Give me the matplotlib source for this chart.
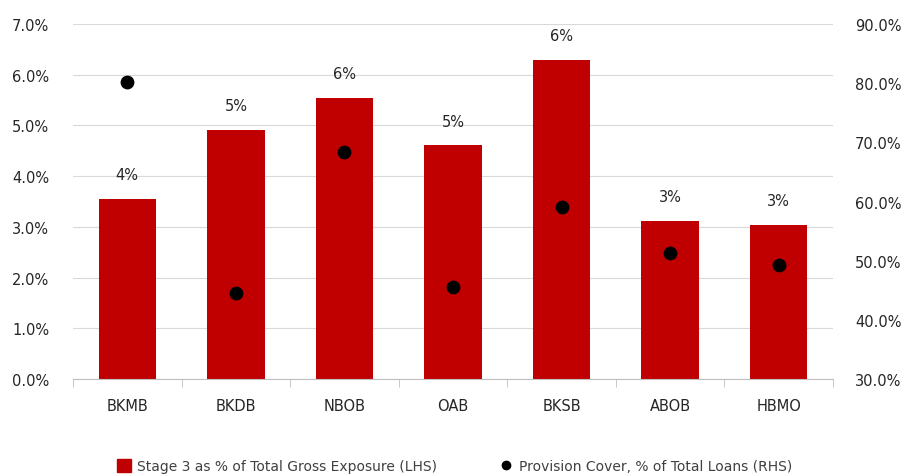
import matplotlib.pyplot as plt
from matplotlib.ticker import FuncFormatter, MultipleLocator
from matplotlib.lines import Line2D
from matplotlib.patches import Patch
import numpy as np

banks = ["BKMB", "BKDB", "NBOB", "OAB", "BKSB", "ABOB", "HBMO"]
stage3 = [3.55, 4.92, 5.55, 4.61, 6.29, 3.12, 3.04]
provision = [80.2, 44.5, 68.3, 45.6, 59.1, 51.3, 49.3]

plt.rcParams['font.family'] = ['DejaVu Sans']

fig = plt.figure(figsize=(9.09, 4.77), dpi=100)
ax = fig.add_axes([0.0803, 0.2034, 0.836, 0.744])
ax2 = ax.twinx()

x = np.arange(len(banks))
ax.bar(x, stage3, width=0.53, color="#c00000", zorder=2)
for xi, v in zip(x, stage3):
    ax.annotate(f"{v:.0f}%", (xi, v), xytext=(0, 12), textcoords="offset points",
                ha="center", va="bottom", fontsize=10.5, color="#262626")

ax2.scatter(x, provision, s=80, color="black", zorder=3)

ax.set_xlim(-0.5, len(banks) - 0.5)
ax.set_ylim(0, 7)
ax2.set_ylim(30, 90)
ax.yaxis.set_major_locator(MultipleLocator(1))
ax2.yaxis.set_major_locator(MultipleLocator(10))
ax.yaxis.set_major_formatter(FuncFormatter(lambda v, p: f"{v:.1f}%"))
ax2.yaxis.set_major_formatter(FuncFormatter(lambda v, p: f"{v:.1f}%"))

ax.grid(axis="y", color="#d9d9d9", linewidth=0.8, zorder=0)
ax.set_axisbelow(True)

ax.set_xticks(x)
ax.set_xticklabels(banks)
ax.set_xticks(np.arange(len(banks) + 1) - 0.5, minor=True)
ax.tick_params(axis="x", which="major", length=0, pad=14, labelsize=10.5, colors="#262626")
ax.tick_params(axis="x", which="minor", length=6, color="#bfbfbf")
ax.tick_params(axis="y", length=0, pad=17, labelsize=10.5, colors="#262626")
ax2.tick_params(axis="y", length=0, pad=16, labelsize=10.5, colors="#262626")

for a in (ax, ax2):
    for s in ("top", "left", "right"):
        a.spines[s].set_visible(False)
ax.spines["bottom"].set_color("#bfbfbf")
ax2.spines["bottom"].set_visible(False)

handles = [
    Patch(color="#c00000", label="Stage 3 as % of Total Gross Exposure (LHS)"),
    Line2D([], [], marker="o", color="black", linestyle="none", markersize=6,
           label="Provision Cover, % of Total Loans (RHS)"),
]
fig.legend(handles=handles, loc="center", bbox_to_anchor=(0.5, 0.02),
           ncol=2, frameon=False, fontsize=10, handlelength=1.0,
           handleheight=1.0, handletextpad=0.4, columnspacing=4.5,
           labelcolor="#404040")

fig.savefig("out.png", dpi=100)
